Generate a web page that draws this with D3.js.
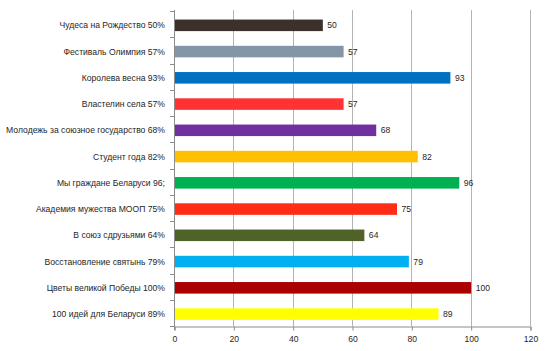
<!DOCTYPE html>
<html><head><meta charset="utf-8">
<script src="https://cdn.jsdelivr.net/npm/d3@7"></script>
<style>body{margin:0;background:#fff}svg{display:block}</style>
</head><body>
<svg id="c" width="548" height="351"></svg>
<script>
const categories = [
  "Чудеса на Рождество 50%",
  "Фестиваль Олимпия 57%",
  "Королева весна 93%",
  "Властелин села 57%",
  "Молодежь за союзное государство 68%",
  "Студент года 82%",
  "Мы граждане  Беларуси 96;",
  "Академия мужества МООП 75%",
  "В союз сдрузьями 64%",
  "Восстановление святынь 79%",
  "Цветы великой Победы 100%",
  "100 идей для Беларуси 89%"
];
const values = [50, 57, 93, 57, 68, 82, 96, 75, 64, 79, 100, 89];
const colors = ["#3b302a","#8595a8","#0070c0","#ff3333","#7030a0","#ffc000","#00b050","#ff2d16","#4f6228","#00b0f0","#aa0000","#ffff00"];
const xTicks = [0, 20, 40, 60, 80, 100, 120];

const FONT = "'Liberation Sans', Arial, sans-serif";
const FS = 8.6;
const svg = d3.select("#c");
const mLeft = 174, mRight = 530, mTop = 11, mBottom = 326;
const barShift = 1.2;
const x = d3.scaleLinear().domain([0, 120]).range([mLeft, mRight]);
const y = d3.scaleBand().domain(categories).range([mTop, mBottom]).paddingInner(0.56).paddingOuter(0.28);

// gridlines
svg.append("g").selectAll("line").data(xTicks.slice(1)).join("line")
  .attr("x1", d => Math.round(x(d)) + 0.5).attr("x2", d => Math.round(x(d)) + 0.5)
  .attr("y1", mTop - 1).attr("y2", mBottom)
  .attr("stroke", "#b3b3b3").attr("stroke-width", 1);

// bars
svg.append("g").selectAll("rect").data(values).join("rect")
  .attr("x", x(0) + 0.5)
  .attr("y", (d, i) => y(categories[i]) + barShift)
  .attr("width", d => x(d) - x(0))
  .attr("height", y.bandwidth())
  .attr("fill", (d, i) => colors[i]);

// value labels
svg.append("g").selectAll("text").data(values).join("text")
  .attr("x", d => x(d) + 5)
  .attr("y", (d, i) => y(categories[i]) + y.bandwidth() / 2 + barShift)
  .attr("dy", "0.35em")
  .attr("font-family", FONT)
  .attr("font-size", FS)
  .attr("fill", "#262626")
  .text(d => d);

// x axis
const xAxis = d3.axisBottom(x).tickValues(xTicks).tickSize(4).tickPadding(5);
const gx = svg.append("g").attr("transform", `translate(0.5,${mBottom + 0.5})`).call(xAxis);
gx.select(".domain").attr("stroke", "#8c8c8c");
gx.selectAll(".tick line").attr("stroke", "#8c8c8c");
gx.selectAll("text").attr("font-family", FONT).attr("font-size", FS).attr("fill", "#262626");

// y axis (boundary ticks)
const yAxisLine = svg.append("g");
yAxisLine.append("line").attr("x1", mLeft + 0.5).attr("x2", mLeft + 0.5).attr("y1", mTop - 1).attr("y2", mBottom + 4)
  .attr("stroke", "#8c8c8c");
const step = (mBottom - mTop) / categories.length;
const bounds = d3.range(categories.length + 1).map(i => mTop + i * step);
yAxisLine.selectAll("line.t").data(bounds).join("line").attr("class", "t")
  .attr("x1", mLeft - 4).attr("x2", mLeft + 0.5)
  .attr("y1", d => Math.round(d) + 0.5).attr("y2", d => Math.round(d) + 0.5)
  .attr("stroke", "#8c8c8c");

// category labels
svg.append("g").selectAll("text").data(categories).join("text")
  .attr("x", 165)
  .attr("y", d => y(d) + y.bandwidth() / 2 + barShift)
  .attr("dy", "0.35em")
  .attr("text-anchor", "end")
  .attr("font-family", FONT)
  .attr("font-size", FS)
  .attr("fill", "#262626")
  .text(d => d);
</script>
</body></html>
